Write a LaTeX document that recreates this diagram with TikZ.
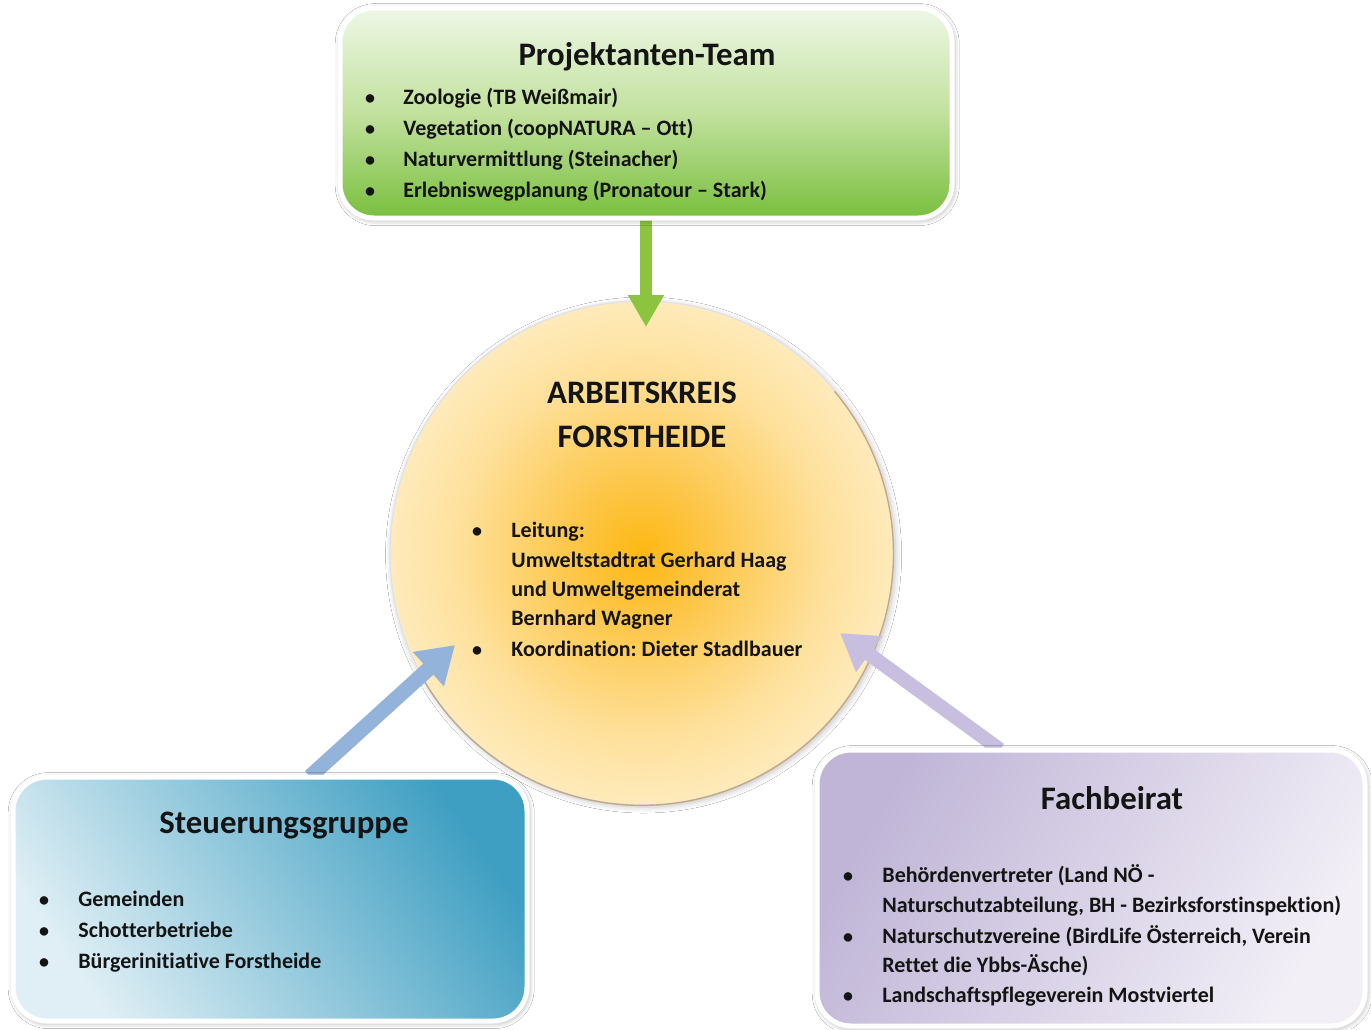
\documentclass[tikz,border=0pt]{standalone}
\usepackage{fontspec}
\setmainfont{Carlito}[Ligatures={NoCommon}]
\usetikzlibrary{arrows.meta,shadows.blur}

% palette
\definecolor{teamTop}{HTML}{EEF7E6}
\definecolor{teamMid}{HTML}{C2E19E}
\definecolor{teamBot}{HTML}{79BF3E}
\definecolor{steuDark}{HTML}{3F9FC2}
\definecolor{steuLight}{HTML}{E0EFF5}
\definecolor{fachDark}{HTML}{C0B5D7}
\definecolor{fachLight}{HTML}{F2EFF7}
\definecolor{sunA}{HTML}{FDB813}
\definecolor{sunB}{HTML}{FDC648}
\definecolor{sunC}{HTML}{FEE09A}
\definecolor{sunD}{HTML}{FEEFC9}
\definecolor{sunE}{HTML}{FEF7E2}
\definecolor{rimCol}{HTML}{C4A886}
\definecolor{rimPale}{HTML}{DDE2EA}
\definecolor{arrGreen}{HTML}{8CC43F}
\definecolor{arrBlue}{HTML}{93B3DA}
\definecolor{arrLilac}{HTML}{C8BFE0}
\definecolor{ink}{HTML}{141414}

% warm glow for the central circle
\pgfdeclareradialshading{sunglow}{\pgfpoint{0bp}{0bp}}{%
  color(0bp)=(sunA); color(7bp)=(sunB); color(18bp)=(sunC);
  color(28bp)=(sunD); color(40bp)=(sunE); color(50bp)=(sunE)}

\tikzset{
  panel/.style={rounded corners=17pt, draw=white, line width=2.5pt,
    blur shadow={shadow xshift=0.6pt, shadow yshift=-0.8pt,
      shadow blur radius=3pt, shadow opacity=40}},
  headline/.style={anchor=base, inner sep=0pt, text=ink,
    font=\fontsize{16.4}{19}\selectfont\bfseries},
  entry/.style={anchor=base west, inner sep=0pt, text=ink,
    font=\fontsize{11}{13}\selectfont\bfseries},
  dot/.style={anchor=base, inner sep=0pt, text=ink,
    font=\fontsize{10}{13}\selectfont\bfseries}
}

\begin{document}
\frenchspacing
\begin{tikzpicture}[x=0.5pt, y=-0.5pt]
\useasboundingbox[fill=white] (0,0) rectangle (1371,1029);

% central circle
\node[circle, minimum size=252pt, inner sep=0pt, shading=sunglow,
      draw=rimPale, line width=0.6pt,
      blur shadow={shadow xshift=0.8pt, shadow yshift=-1pt,
        shadow blur radius=3pt, shadow opacity=25}] (kreis) at (642,553) {};
\draw[rimCol, line width=0.7pt]
  (kreis.210) arc[start angle=210, end angle=400, radius=126pt];

% tips of the arrows inside the circle
\coordinate (tipTop) at (646,327);
\coordinate (tipLeft) at (455,645);
\coordinate (tipRight) at (840,633);

% the three groups
\path (646,113) node[minimum width=306pt, minimum height=105pt, inner sep=0pt] (team) {};
\path (270,899) node[minimum width=257pt, minimum height=122pt, inner sep=0pt] (steu) {};
\path (1091,888) node[minimum width=274pt, minimum height=138pt, inner sep=0pt] (fach) {};

% arrows into the circle
\draw[arrGreen, line width=6pt, -{Triangle[width=17pt, length=16pt]}]
  (team.south) -- (tipTop);
\draw[arrBlue, line width=7.5pt, -{Triangle[width=22pt, length=18pt]}]
  ([xshift=20pt]steu.north) -- (tipLeft);
\draw[arrLilac, line width=7pt, -{Triangle[width=21pt, length=18pt]}]
  ([xshift=-45.5pt]fach.north) -- (tipRight);

% box bodies
\node[panel, minimum width=306pt, minimum height=105pt, inner sep=0pt,
      top color=teamTop, bottom color=teamBot, middle color=teamMid]
      at (team.center) {};
\node[panel, minimum width=257pt, minimum height=122pt, inner sep=0pt,
      top color=steuDark, bottom color=steuLight, shading angle=-55]
      at (steu.center) {};
\node[panel, minimum width=274pt, minimum height=138pt, inner sep=0pt,
      top color=fachDark, bottom color=fachLight, shading angle=60]
      at (fach.center) {};

% Projektanten-Team
\node[headline] (teamT) at (647,65) {Projektanten-Team};
\foreach \y/\t in {104/{Zoologie (TB Weißmair)},
                   135/{Vegetation (coopNATURA – Ott)},
                   166/{Naturvermittlung (Steinacher)},
                   197/{Erlebniswegplanung (Pronatour – Stark)}}{
  \node[dot] at (370,\y) {\textbullet};
  \node[entry] at (403,\y) {\t};
}

% Arbeitskreis
\node[headline] (kreisT1) at (642,403) {ARBEITSKREIS};
\node[headline] (kreisT2) at (642,447) {FORSTHEIDE};
\node[dot] at (477,537) {\textbullet};
\node[entry] at (511,537) {Leitung:};
\node[entry] at (511,567) {Umweltstadtrat Gerhard Haag};
\node[entry] at (511,596) {und Umweltgemeinderat};
\node[entry] at (511,625) {Bernhard Wagner};
\node[dot] at (477,656) {\textbullet};
\node[entry] at (511,656) {Koordination: Dieter Stadlbauer};

% Steuerungsgruppe
\node[headline] (steuT) at (284,833) {Steuerungsgruppe};
\foreach \y/\t in {906/{Gemeinden},
                   937/{Schotterbetriebe},
                   968/{Bürgerinitiative Forstheide}}{
  \node[dot] at (44,\y) {\textbullet};
  \node[entry] at (78,\y) {\t};
}

% Fachbeirat
\node[headline] (fachT) at (1112,809) {Fachbeirat};
\node[dot] at (848,882) {\textbullet};
\node[entry] at (882,882) {Behördenvertreter (Land NÖ -};
\node[entry] at (882,912) {Naturschutzabteilung, BH - Bezirksforstinspektion)};
\node[dot] at (848,943) {\textbullet};
\node[entry] at (882,943) {Naturschutzvereine (BirdLife Österreich, Verein};
\node[entry] at (882,972) {Rettet die Ybbs-Äsche)};
\node[dot] at (848,1002) {\textbullet};
\node[entry] at (882,1002) {Landschaftspflegeverein Mostviertel};
\end{tikzpicture}
\end{document}
